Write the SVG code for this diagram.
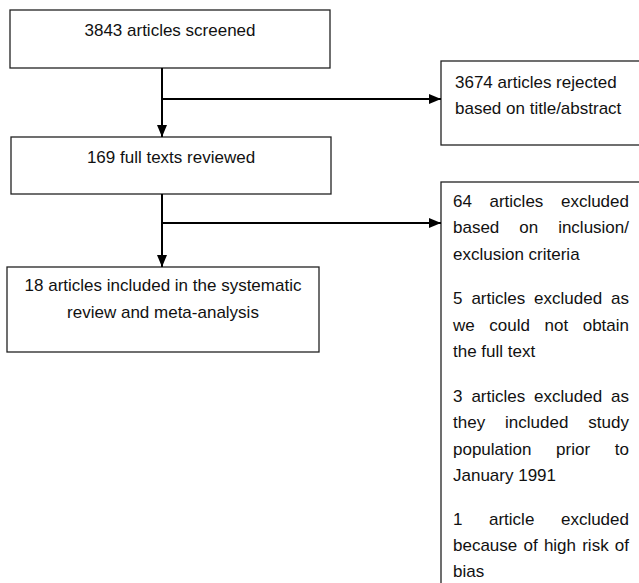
<svg xmlns="http://www.w3.org/2000/svg" width="639" height="583" viewBox="0 0 639 583">
<defs>
<marker id="arr" viewBox="0 0 12 10" refX="12" refY="5" markerWidth="12" markerHeight="10" markerUnits="userSpaceOnUse" orient="auto">
<path d="M0,0 L12,5 L0,10 z" fill="#000"/>
</marker>
<style>
.box{fill:#fff;stroke:#222;stroke-width:1.3}
text{font-family:"Liberation Sans",Arial,sans-serif;font-size:17px;fill:#111}
.c{text-anchor:middle}
.e{text-anchor:end}
.conn line{stroke:#000;stroke-width:2}
</style>
</defs>
<rect width="639" height="583" fill="#fff"/>
<g id="screened">
<rect class="box" x="10" y="10" width="320" height="58"/>
<text class="c" x="170" y="36">3843 articles screened</text>
</g>
<g id="rejected">
<rect class="box" x="441" y="61" width="210" height="84"/>
<text x="455" y="88">3674 articles rejected</text>
<text x="455" y="114">based on title/abstract</text>
</g>
<g id="reviewed">
<rect class="box" x="11" y="137" width="320" height="57"/>
<text class="c" x="171" y="163">169 full texts reviewed</text>
</g>
<g id="included">
<rect class="box" x="7" y="267" width="312" height="85"/>
<text class="c" x="163" y="291">18 articles included in the systematic</text>
<text class="c" x="163" y="318">review and meta-analysis</text>
</g>
<g id="excluded">
<rect class="box" x="441" y="182" width="210" height="420"/>
<text y="206.5"><tspan x="453">64</tspan><tspan x="489.5">articles</tspan><tspan x="629" class="e">excluded</tspan></text>
<text y="233"><tspan x="453">based</tspan><tspan x="519.3">on</tspan><tspan x="629" class="e">inclusion/</tspan></text>
<text x="453" y="259.5">exclusion criteria</text>
<text y="304"><tspan x="453">5</tspan><tspan x="471.4">articles</tspan><tspan x="534.1">excluded</tspan><tspan x="629" class="e">as</tspan></text>
<text y="330.5"><tspan x="453">we</tspan><tspan x="489.3">could</tspan><tspan x="544.5">not</tspan><tspan x="629" class="e">obtain</tspan></text>
<text x="453" y="357">the full text</text>
<text y="401.5"><tspan x="453">3</tspan><tspan x="471.4">articles</tspan><tspan x="534.1">excluded</tspan><tspan x="629" class="e">as</tspan></text>
<text y="428"><tspan x="453">they</tspan><tspan x="505.1">included</tspan><tspan x="629" class="e">study</tspan></text>
<text y="454.5"><tspan x="453">population</tspan><tspan x="556.1">prior</tspan><tspan x="629" class="e">to</tspan></text>
<text x="453" y="481">January 1991</text>
<text y="524.5"><tspan x="453">1</tspan><tspan x="489">article</tspan><tspan x="629" class="e">excluded</tspan></text>
<text y="551"><tspan x="453">because</tspan><tspan x="523.5">of</tspan><tspan x="543.9">high</tspan><tspan x="582.2">risk</tspan><tspan x="629" class="e">of</tspan></text>
<text x="453" y="577">bias</text>
</g>
<g class="conn" id="connectors">
<line x1="162" y1="68" x2="162" y2="137" marker-end="url(#arr)"/>
<line x1="161" y1="99" x2="441" y2="99" marker-end="url(#arr)"/>
<line x1="162" y1="194" x2="162" y2="267" marker-end="url(#arr)"/>
<line x1="161" y1="223" x2="441" y2="223" marker-end="url(#arr)"/>
</g>
</svg>
